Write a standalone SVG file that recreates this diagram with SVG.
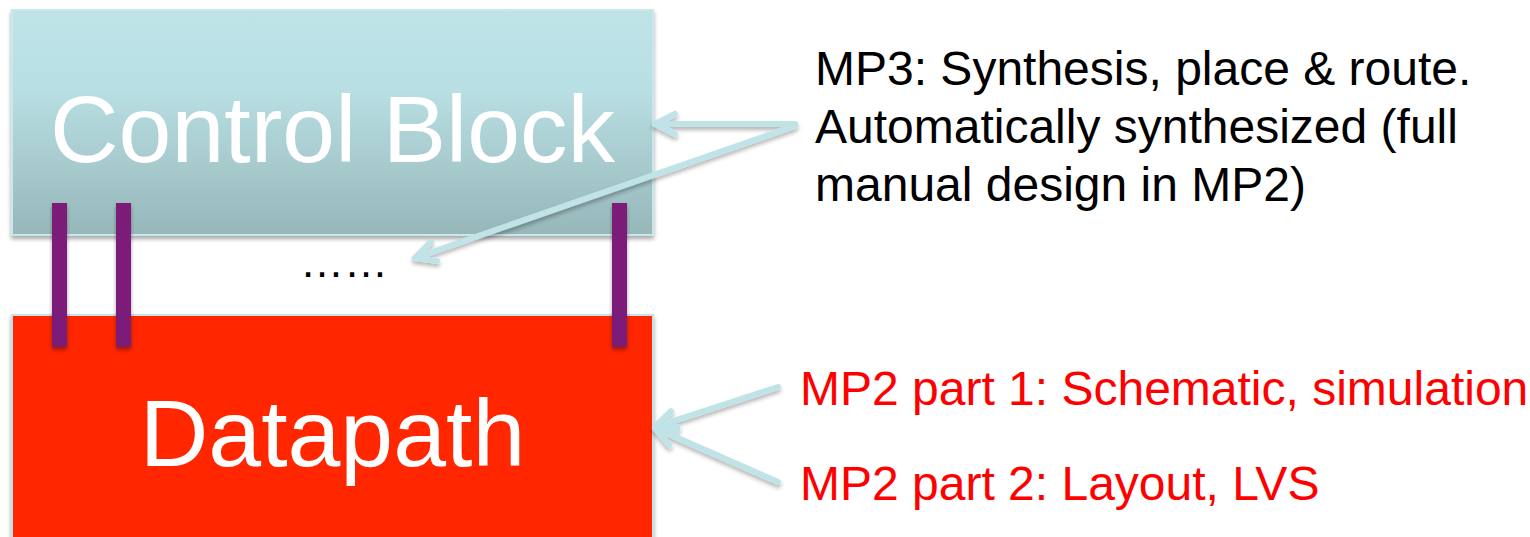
<svg xmlns="http://www.w3.org/2000/svg" width="1530" height="537" viewBox="0 0 1530 537">
  <style>
    .lbl { font-family: "Liberation Sans", Arial, sans-serif; }
    .big { font-size: 95px; fill: #ffffff; text-anchor: middle; }
    .note { font-size: 48px; fill: #000000; }
    .red { font-size: 48px; fill: #ff0000; }
    .conn { stroke: #bfe3e6; stroke-width: 6; fill: none; stroke-linecap: round; }
    .bar { fill: #7b1a78; filter: url(#sh); }
  </style>
  <defs>
    <linearGradient id="cb" x1="0" y1="0" x2="0" y2="1">
      <stop offset="0" stop-color="#bee4e8"/>
      <stop offset="0.35" stop-color="#b8dfe3"/>
      <stop offset="1" stop-color="#97b7b9"/>
    </linearGradient>
    <filter id="sh" x="-20%" y="-20%" width="140%" height="140%">
      <feGaussianBlur in="SourceAlpha" stdDeviation="2"/>
      <feOffset dx="0" dy="3" result="b"/>
      <feComponentTransfer><feFuncA type="linear" slope="0.35"/></feComponentTransfer>
      <feMerge><feMergeNode/><feMergeNode in="SourceGraphic"/></feMerge>
    </filter>
    <filter id="csh" filterUnits="userSpaceOnUse" x="600" y="80" width="260" height="440">
      <feGaussianBlur in="SourceAlpha" stdDeviation="2"/>
      <feOffset dx="0" dy="3" result="b"/>
      <feComponentTransfer><feFuncA type="linear" slope="0.3"/></feComponentTransfer>
      <feMerge><feMergeNode/><feMergeNode in="SourceGraphic"/></feMerge>
    </filter>
    <filter id="csh2" filterUnits="userSpaceOnUse" x="380" y="80" width="480" height="220">
      <feGaussianBlur in="SourceAlpha" stdDeviation="2"/>
      <feOffset dx="0" dy="3" result="b"/>
      <feComponentTransfer><feFuncA type="linear" slope="0.3"/></feComponentTransfer>
      <feMerge><feMergeNode/><feMergeNode in="SourceGraphic"/></feMerge>
    </filter>
    <marker id="ah" viewBox="-26 -16 30 32" refX="0" refY="0" markerWidth="30" markerHeight="32" markerUnits="userSpaceOnUse" orient="auto">
      <path d="M-20,-10 L0,0 L-20,10" fill="none" stroke="#bfe3e6" stroke-width="6" stroke-linecap="round" stroke-linejoin="round"/>
    </marker>
  </defs>

  <g id="control-block">
    <rect x="12" y="10" width="641" height="225" fill="url(#cb)" stroke="#c8e8ec" stroke-width="2" filter="url(#sh)"/>
    <text class="lbl big" x="332.5" y="162">Control Block</text>
  </g>

  <g id="datapath">
    <rect x="12" y="315" width="641" height="240" fill="#ff2600" stroke="#c5e3e8" stroke-width="2" filter="url(#sh)"/>
    <text class="lbl big" x="332.5" y="466">Datapath</text>
  </g>

  <g id="wires">
    <rect class="bar" x="52" y="203" width="15" height="144"/>
    <rect class="bar" x="116" y="203" width="15" height="144"/>
    <rect class="bar" x="612" y="203" width="15" height="144"/>
  </g>

  <g id="dots">
    <text class="lbl" x="300" y="277" font-size="44" fill="#000000">……</text>
  </g>

  <g id="note-mp3">
    <text class="lbl note" x="815" y="85">MP3: Synthesis, place &amp; route.</text>
    <text class="lbl note" x="815" y="143">Automatically synthesized (full</text>
    <text class="lbl note" x="815" y="201">manual design in MP2)</text>
  </g>

  <g id="note-mp2">
    <text class="lbl red" x="800" y="405">MP2 part 1: Schematic, simulation</text>
    <text class="lbl red" x="800" y="500">MP2 part 2: Layout, LVS</text>
  </g>

  <g id="connectors">
    <g filter="url(#csh2)">
      <line class="conn" x1="795" y1="124" x2="655" y2="124" marker-end="url(#ah)"/>
      <line class="conn" x1="795" y1="126" x2="415" y2="258" marker-end="url(#ah)"/>
    </g>
    <g filter="url(#csh)">
      <line class="conn" x1="778" y1="387" x2="655" y2="427" marker-end="url(#ah)"/>
      <line class="conn" x1="778" y1="482" x2="655" y2="428" marker-end="url(#ah)"/>
    </g>
  </g>
</svg>
